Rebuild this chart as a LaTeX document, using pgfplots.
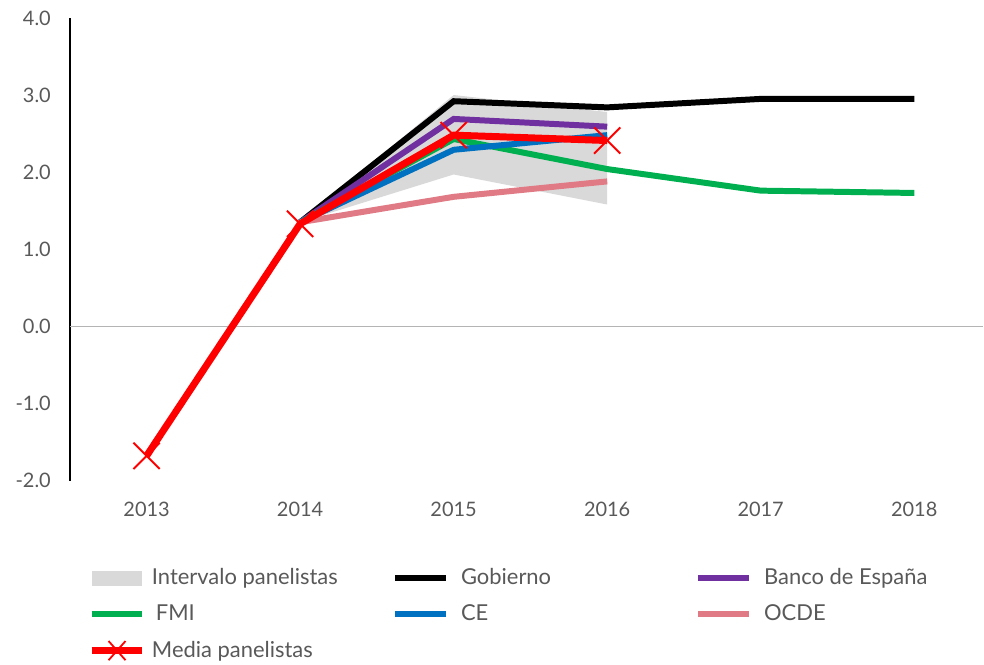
\documentclass[border=0pt]{standalone}
\usepackage{fontspec}
\setmainfont{Lato}
\usepackage{pgfplots}
\pgfplotsset{compat=1.18}
\definecolor{txtgray}{HTML}{595959}
\definecolor{bande}{HTML}{D9D9D9}
\definecolor{bdepurple}{HTML}{7030A0}
\definecolor{fmigreen}{HTML}{00B050}
\definecolor{ceblue}{HTML}{0070C0}
\definecolor{ocdepink}{HTML}{E07A85}
\begin{document}
\begin{tikzpicture}
\begin{axis}[name=ax,
  scale only axis, width=457pt, height=232pt,
  xmin=2012.5, xmax=2018.435, ymin=-2, ymax=4,
  xtick={2013,...,2018}, ytick={-2,-1,...,4},
  xticklabel style={/pgf/number format/1000 sep={}, yshift=-7pt},
  yticklabel style={/pgf/number format/.cd, fixed, fixed zerofill, precision=1, /tikz/.cd, xshift=-6pt},
  /pgf/number format/assume math mode=true,
  tick label style={font=\fontsize{10pt}{12pt}\selectfont, text=txtgray},
  major tick length=0pt,
  axis lines*=left, separate axis lines,
  x axis line style={draw=none},
  y axis line style={black, line width=0.9pt},
  clip=false,
  legend columns=3,
  legend cell align=left,
  legend style={draw=none, at={(0,0)}, anchor=north west, xshift=9pt, yshift=-42pt,
    font=\fontsize{11pt}{12pt}\selectfont, text=txtgray,
    row sep=4.6pt, column sep=0pt, inner sep=0pt},
  legend image code/.code={\draw[#1] (0pt,0pt) -- (25.5pt,0pt);},
]
\addplot[txtgray!45, line width=0.6pt, forget plot] coordinates {(2012.5,0) (2018.45,0)};
\addplot[fill=bande, draw=none, area legend,
  legend image code/.code={\fill[bande] (0pt,-3.8pt) rectangle (25.5pt,3.8pt);}]
  coordinates {(2014,1.35) (2015,3.0) (2016,2.78) (2016,1.58) (2015,1.97) (2014,1.35)} --cycle;
\addlegendentry{\makebox[119.5pt][l]{\hspace{1pt}Intervalo panelistas}}
\addplot[black, line width=3pt] coordinates {(2014,1.35) (2015,2.92) (2016,2.84) (2017,2.95) (2018,2.95)};
\addlegendentry{\makebox[119.5pt][l]{\hspace{4pt}Gobierno}}
\addplot[bdepurple, line width=3pt] coordinates {(2014,1.35) (2015,2.69) (2016,2.59)};
\addlegendentry{\hspace{4pt}Banco de España}
\addplot[fmigreen, line width=3pt] coordinates {(2014,1.35) (2015,2.43) (2016,2.04) (2017,1.76) (2018,1.73)};
\addlegendentry{\makebox[119.5pt][l]{\hspace{3pt}FMI}}
\addplot[ceblue, line width=3pt] coordinates {(2014,1.35) (2015,2.29) (2016,2.48)};
\addlegendentry{\makebox[119.5pt][l]{\hspace{4pt}CE}}
\addplot[ocdepink, line width=3pt] coordinates {(2014,1.35) (2015,1.68) (2016,1.88)};
\addlegendentry{\hspace{4pt}OCDE}
\addplot[red, line width=3.5pt, mark=x, mark size=9.3pt, mark options={line width=1pt},
  legend image code/.code={\draw[red, line width=3.5pt] (0pt,0pt) -- (25.5pt,0pt);
    \draw[red, line width=0.9pt] (8.5pt,-4.8pt) -- (17pt,4.8pt) (8.5pt,4.8pt) -- (17pt,-4.8pt);}]
  coordinates {(2013,-1.68) (2014,1.33) (2015,2.48) (2016,2.41)};
\addlegendentry{\hspace{1pt}Media panelistas}
\end{axis}
\path[use as bounding box] ([xshift=-35pt, yshift=-89.5pt]ax.south west) rectangle ([yshift=9pt]ax.north east);
\end{tikzpicture}
\end{document}
